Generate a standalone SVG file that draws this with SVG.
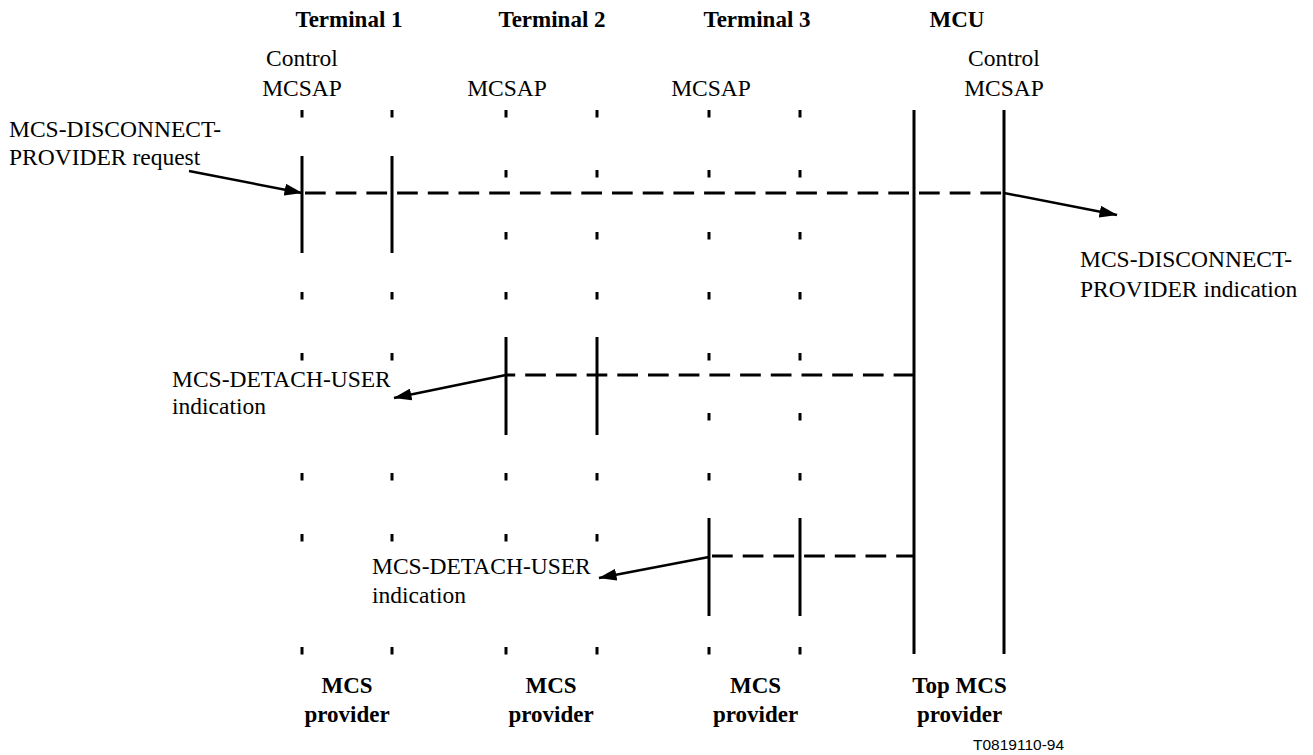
<svg xmlns="http://www.w3.org/2000/svg" width="1313" height="755" viewBox="0 0 1313 755">
<style>
.s{font-family:"Liberation Serif","Times New Roman",serif;font-size:23.5px;fill:#000}
.h{font-family:"Liberation Serif","Times New Roman",serif;font-size:23px;font-weight:bold;fill:#000;text-anchor:middle}
.m{text-anchor:middle}
.tk{fill:#000}
.ln{stroke:#000;stroke-width:3;fill:none}
.ds{stroke:#000;stroke-width:3;fill:none;stroke-dasharray:20.7 10}
.ar{stroke:#000;stroke-width:2.5;fill:none;marker-end:url(#ah)}
.ref{font-family:"Liberation Sans",Arial,sans-serif;font-size:15.5px;fill:#000}
</style>
<defs>
<marker id="ah" markerUnits="userSpaceOnUse" markerWidth="19" markerHeight="12" refX="17.5" refY="6" orient="auto">
<path d="M0,0 L18,6 L0,12 z" fill="#000"/>
</marker>
<rect id="tick" class="tk" x="-1.5" y="0" width="3" height="7.5"/>
</defs>
<rect width="1313" height="755" fill="#fff"/>

<g id="terminal1">
<text class="h" x="349" y="27">Terminal 1</text>
<text class="s m" x="302" y="66">Control</text>
<text class="s m" x="302" y="95.5">MCSAP</text>
<g transform="translate(302,0)"><use href="#tick" y="110"/><use href="#tick" y="292"/><use href="#tick" y="353"/><use href="#tick" y="473"/><use href="#tick" y="534"/><use href="#tick" y="647"/></g>
<g transform="translate(392,0)"><use href="#tick" y="110"/><use href="#tick" y="292"/><use href="#tick" y="353"/><use href="#tick" y="473"/><use href="#tick" y="534"/><use href="#tick" y="647"/></g>
<line class="ln" x1="302" y1="156" x2="302" y2="253"/>
<line class="ln" x1="392" y1="156" x2="392" y2="253"/>
<text class="h" x="347" y="693">MCS</text>
<text class="h" x="347" y="722">provider</text>
</g>

<g id="terminal2">
<text class="h" x="552" y="27">Terminal 2</text>
<text class="s m" x="507" y="95.5">MCSAP</text>
<g transform="translate(506,0)"><use href="#tick" y="110"/><use href="#tick" y="170"/><use href="#tick" y="232"/><use href="#tick" y="292"/><use href="#tick" y="473"/><use href="#tick" y="534"/><use href="#tick" y="647"/></g>
<g transform="translate(597,0)"><use href="#tick" y="110"/><use href="#tick" y="170"/><use href="#tick" y="232"/><use href="#tick" y="292"/><use href="#tick" y="473"/><use href="#tick" y="534"/><use href="#tick" y="647"/></g>
<line class="ln" x1="506" y1="337" x2="506" y2="435"/>
<line class="ln" x1="597" y1="337" x2="597" y2="435"/>
<text class="h" x="551" y="693">MCS</text>
<text class="h" x="551" y="722">provider</text>
</g>

<g id="terminal3">
<text class="h" x="757" y="27">Terminal 3</text>
<text class="s m" x="711" y="95.5">MCSAP</text>
<g transform="translate(709,0)"><use href="#tick" y="110"/><use href="#tick" y="170"/><use href="#tick" y="232"/><use href="#tick" y="292"/><use href="#tick" y="353"/><use href="#tick" y="413"/><use href="#tick" y="473"/><use href="#tick" y="647"/></g>
<g transform="translate(800,0)"><use href="#tick" y="110"/><use href="#tick" y="170"/><use href="#tick" y="232"/><use href="#tick" y="292"/><use href="#tick" y="353"/><use href="#tick" y="413"/><use href="#tick" y="473"/><use href="#tick" y="647"/></g>
<line class="ln" x1="709" y1="518" x2="709" y2="616"/>
<line class="ln" x1="800" y1="518" x2="800" y2="616"/>
<text class="h" x="755.5" y="693">MCS</text>
<text class="h" x="755.5" y="722">provider</text>
</g>

<g id="mcu">
<text class="h" x="957" y="27">MCU</text>
<text class="s m" x="1004" y="66">Control</text>
<text class="s m" x="1004" y="95.5">MCSAP</text>
<line class="ln" x1="914" y1="110" x2="914" y2="654"/>
<line class="ln" x1="1004" y1="110" x2="1004" y2="654"/>
<text class="h" x="959.5" y="693">Top MCS</text>
<text class="h" x="959.5" y="722">provider</text>
</g>

<g id="labels">
<text class="s" x="9" y="137">MCS-DISCONNECT-</text>
<text class="s" x="9" y="164.5">PROVIDER request</text>
<text class="s" x="1080" y="267">MCS-DISCONNECT-</text>
<text class="s" x="1080" y="297">PROVIDER indication</text>
<text class="s" x="172" y="386.5">MCS-DETACH-USER</text>
<text class="s" x="172" y="413.5">indication</text>
<text class="s" x="372" y="574">MCS-DETACH-USER</text>
<text class="s" x="372" y="603">indication</text>
<text class="ref" x="973" y="750">T0819110-94</text>
</g>

<g id="connectors">
<line class="ds" x1="302" y1="193" x2="1004" y2="193" stroke-dashoffset="27.7"/>
<line class="ds" x1="506" y1="375" x2="914" y2="375" stroke-dashoffset="11.5"/>
<line class="ds" x1="709" y1="556" x2="914" y2="556" stroke-dashoffset="27.7"/>
<line class="ar" x1="189" y1="171" x2="302" y2="193"/>
<line class="ar" x1="1004" y1="193" x2="1117" y2="215"/>
<line class="ar" x1="506" y1="375" x2="394" y2="398"/>
<line class="ar" x1="709" y1="557" x2="599" y2="578"/>
</g>
</svg>
